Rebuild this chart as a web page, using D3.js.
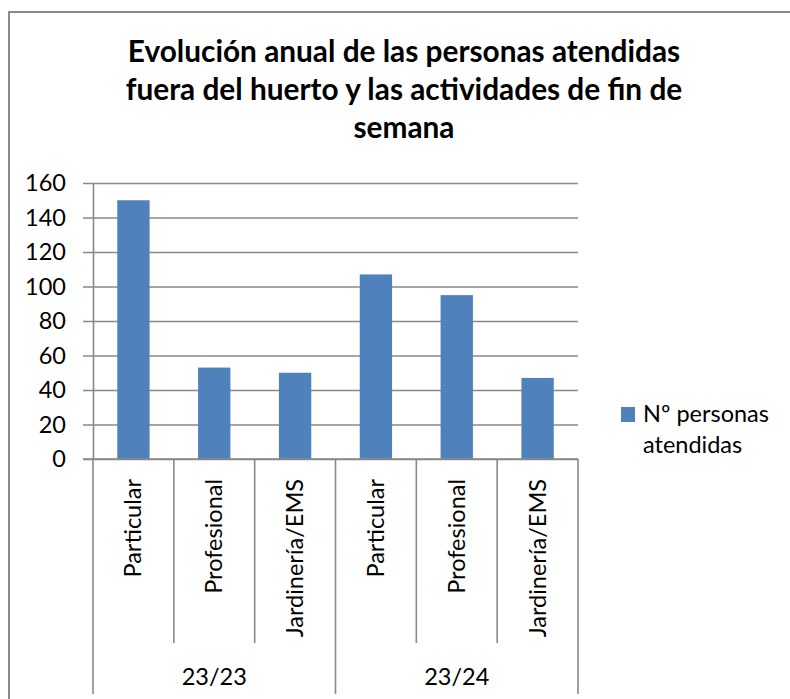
<!DOCTYPE html>
<html>
<head>
<meta charset="utf-8">
<script src="https://cdn.jsdelivr.net/npm/d3@7"></script>
<style>
  html, body { margin: 0; padding: 0; background: #fff; }
  svg { display: block; }
  text { font-family: Lato, "Open Sans", sans-serif; fill: #000; }
</style>
</head>
<body>
<svg id="chart" width="790" height="699"></svg>
<script>
// ---- data ----
const titleLines = ["Evolución anual de las personas atendidas", "fuera del huerto y las actividades de fin de", "semana"];
const groups = ["23/23", "23/24"];
const subCategories = ["Particular", "Profesional", "Jardinería/EMS"];
const categoryGroup = [0, 0, 0, 1, 1, 1];
const categories = ["Particular", "Profesional", "Jardinería/EMS", "Particular", "Profesional", "Jardinería/EMS"];
const values = [150, 53, 50, 107, 95, 47];
const yTicks = [0, 20, 40, 60, 80, 100, 120, 140, 160];
const seriesName = ["Nº personas", "atendidas"];

// ---- layout ----
const svg = d3.select("#chart");
const plotL = 93, plotR = 578, plotT = 183, plotB = 459;
const barColor = "#4F81BD", gridColor = "#898989";
const labelSize = 23.5;

// frame (continues beyond the window on right and bottom)
svg.append("rect").attr("x", 9).attr("y", 12).attr("width", 900).attr("height", 900)
  .attr("fill", "none").attr("stroke", "#8a8a8a").attr("stroke-width", 2);

// title
const titleBase = [62, 100, 138];
titleLines.forEach((t, i) => {
  svg.append("text").attr("x", 404).attr("y", titleBase[i])
    .attr("text-anchor", "middle").attr("font-weight", "bold")
    .attr("font-size", 29.8).text(t);
});

// scales
const idx = d3.range(categories.length);
const x = d3.scaleBand().domain(idx).range([plotL, plotR]).paddingInner(0.6).paddingOuter(0.3);
const xCat = d3.scaleBand().domain(idx).range([plotL, plotR]).padding(0);
const y = d3.scaleLinear().domain([0, 160]).range([plotB, plotT]);

// y axis with gridlines
const yAxis = d3.axisLeft(y).tickValues(yTicks).tickSizeInner(0).tickSizeOuter(0).tickPadding(27);
const gy = svg.append("g").attr("transform", `translate(${plotL},0)`).call(yAxis);
gy.select(".domain").attr("stroke", gridColor).attr("stroke-width", 1.6);
gy.selectAll(".tick line").attr("x1", -10).attr("x2", plotR - plotL)
  .attr("stroke", gridColor).attr("stroke-width", 1.6);
gy.selectAll(".tick text").attr("font-size", labelSize).attr("font-family", "Lato, sans-serif").attr("fill", "#000");

// bars
svg.append("g").selectAll("rect").data(values).join("rect")
  .attr("x", (d, i) => x(i)).attr("width", x.bandwidth())
  .attr("y", d => y(d)).attr("height", d => y(0) - y(d))
  .attr("fill", barColor);

// category axis baseline
svg.append("line").attr("x1", plotL - 10).attr("x2", plotR).attr("y1", plotB).attr("y2", plotB)
  .attr("stroke", gridColor).attr("stroke-width", 1.6);

// category tick lines
const boundaries = d3.range(categories.length + 1);
const stepW = xCat.step();
svg.append("g").selectAll("line").data(boundaries).join("line")
  .attr("x1", d => plotL + d * stepW).attr("x2", d => plotL + d * stepW)
  .attr("y1", plotB)
  .attr("y2", d => (d % 3 === 0) ? 694 : 643)
  .attr("stroke", gridColor).attr("stroke-width", 1.6);

// rotated category labels
svg.append("g").selectAll("text").data(categories).join("text")
  .attr("transform", (d, i) => `translate(${xCat(i) + xCat.bandwidth() / 2 + 8},479) rotate(-90)`)
  .attr("text-anchor", "end").attr("font-size", labelSize).text(d => d);

// group labels
svg.append("g").selectAll("text").data(groups).join("text")
  .attr("x", (d, g) => {
    const members = idx.filter(i => categoryGroup[i] === g);
    return (xCat(members[0]) + xCat(members[members.length - 1]) + xCat.bandwidth()) / 2;
  })
  .attr("y", 685).attr("text-anchor", "middle").attr("font-size", labelSize).text(d => d);

// legend
svg.append("rect").attr("x", 621).attr("y", 407).attr("width", 14).attr("height", 15).attr("fill", barColor);
svg.append("g").selectAll("text").data(seriesName).join("text")
  .attr("x", 643).attr("y", (d, i) => 422 + i * 31).attr("font-size", labelSize).text(d => d);
</script>
</body>
</html>
